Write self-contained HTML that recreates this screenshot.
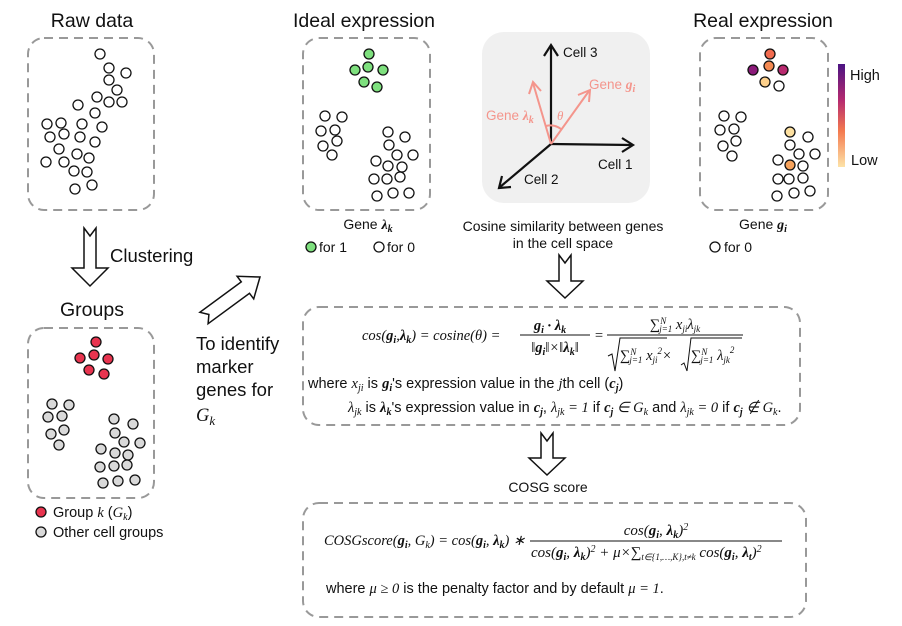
<!DOCTYPE html>
<html><head><meta charset="utf-8"><style>
html,body{margin:0;padding:0;background:#fff;}
svg{display:block;}
text{font-family:"Liberation Sans",sans-serif;fill:#111;}
.m{font-family:"Liberation Serif",serif;font-style:italic;}
.b{font-weight:bold;}
</style></head><body>
<svg width="902" height="626" viewBox="0 0 902 626" xmlns="http://www.w3.org/2000/svg">
<defs>
<linearGradient id="cb" x1="0" y1="0" x2="0" y2="1">
<stop offset="0" stop-color="#4b1483"/><stop offset="0.35" stop-color="#b52a70"/><stop offset="0.65" stop-color="#f47a4f"/><stop offset="1" stop-color="#fde3a8"/>
</linearGradient>
</defs>
<g fill="none" stroke="#999" stroke-width="2" stroke-dasharray="9,6">
<rect x="28" y="38" width="126" height="172" rx="16"/>
<rect x="303" y="38" width="127" height="172" rx="16"/>
<rect x="700" y="38" width="128" height="172" rx="16"/>
<rect x="28" y="328" width="126" height="170" rx="16"/>
<rect x="303" y="307" width="497" height="118" rx="16"/>
<rect x="303" y="503" width="503" height="114" rx="16"/>
</g>
<rect x="482" y="32" width="168" height="171" rx="22" fill="#f0f0f0"/>
<g font-size="19.5">
<text x="92" y="27" text-anchor="middle">Raw data</text>
<text x="364" y="27" text-anchor="middle">Ideal expression</text>
<text x="763" y="27" text-anchor="middle">Real expression</text>
<text x="92" y="316" text-anchor="middle">Groups</text>
</g>
<g fill="#fff" stroke="#111" stroke-width="1.3">
<circle cx="100" cy="54" r="5"/><circle cx="109" cy="68" r="5"/><circle cx="126" cy="73" r="5"/><circle cx="109" cy="80" r="5"/><circle cx="117" cy="90" r="5"/><circle cx="97" cy="97" r="5"/><circle cx="109" cy="102" r="5"/><circle cx="122" cy="102" r="5"/><circle cx="78" cy="105" r="5"/><circle cx="95" cy="113" r="5"/><circle cx="47" cy="124" r="5"/><circle cx="61" cy="123" r="5"/><circle cx="82" cy="124" r="5"/><circle cx="102" cy="127" r="5"/><circle cx="50" cy="137" r="5"/><circle cx="64" cy="134" r="5"/><circle cx="80" cy="137" r="5"/><circle cx="95" cy="142" r="5"/><circle cx="59" cy="149" r="5"/><circle cx="77" cy="154" r="5"/><circle cx="89" cy="158" r="5"/><circle cx="46" cy="162" r="5"/><circle cx="64" cy="162" r="5"/><circle cx="74" cy="171" r="5"/><circle cx="87" cy="172" r="5"/><circle cx="75" cy="189" r="5"/><circle cx="92" cy="185" r="5"/>
</g>
<g fill="#7ee07e" stroke="#111" stroke-width="1.3">
<circle cx="369" cy="54" r="5"/><circle cx="368" cy="67" r="5"/><circle cx="355" cy="70" r="5"/><circle cx="383" cy="70" r="5"/><circle cx="364" cy="82" r="5"/><circle cx="377" cy="87" r="5"/>
<circle cx="311" cy="247" r="5"/>
</g>
<g fill="#fff" stroke="#111" stroke-width="1.3">
<circle cx="325" cy="116" r="5"/><circle cx="342" cy="117" r="5"/><circle cx="321" cy="131" r="5"/><circle cx="335" cy="130" r="5"/><circle cx="337" cy="141" r="5"/><circle cx="323" cy="146" r="5"/><circle cx="332" cy="155" r="5"/>
<circle cx="388" cy="132" r="5"/><circle cx="405" cy="137" r="5"/><circle cx="389" cy="145" r="5"/><circle cx="397" cy="155" r="5"/><circle cx="413" cy="155" r="5"/><circle cx="376" cy="161" r="5"/><circle cx="388" cy="166" r="5"/><circle cx="402" cy="167" r="5"/><circle cx="374" cy="179" r="5"/><circle cx="387" cy="179" r="5"/><circle cx="400" cy="177" r="5"/><circle cx="377" cy="196" r="5"/><circle cx="393" cy="193" r="5"/><circle cx="409" cy="193" r="5"/>
<circle cx="379" cy="247" r="5"/>
<circle cx="724" cy="116" r="5"/><circle cx="741" cy="117" r="5"/><circle cx="720" cy="130" r="5"/><circle cx="734" cy="129" r="5"/><circle cx="736" cy="141" r="5"/><circle cx="723" cy="146" r="5"/><circle cx="732" cy="156" r="5"/>
<circle cx="808" cy="137" r="5"/><circle cx="790" cy="145" r="5"/><circle cx="799" cy="154" r="5"/><circle cx="815" cy="154" r="5"/><circle cx="778" cy="160" r="5"/><circle cx="803" cy="166" r="5"/><circle cx="778" cy="179" r="5"/><circle cx="789" cy="179" r="5"/><circle cx="803" cy="178" r="5"/><circle cx="777" cy="196" r="5"/><circle cx="794" cy="193" r="5"/><circle cx="810" cy="191" r="5"/>
<circle cx="779" cy="86" r="5"/>
<circle cx="715" cy="247" r="5"/>
</g>
<g stroke="#111" stroke-width="1.3">
<circle cx="770" cy="54" r="5" fill="#f26b4f"/><circle cx="753" cy="70" r="5" fill="#8b1a7a"/><circle cx="769" cy="66" r="5" fill="#f48a53"/><circle cx="783" cy="70" r="5" fill="#b8296f"/><circle cx="765" cy="82" r="5" fill="#fdd08b"/>
<circle cx="790" cy="132" r="5" fill="#fde0a0"/><circle cx="790" cy="165" r="5" fill="#f7a35c"/>
</g>
<rect x="838" y="64" width="7" height="103" fill="url(#cb)"/>
<text x="850" y="80" font-size="14.5">High</text>
<text x="851" y="165" font-size="14.5">Low</text>
<g fill="#e8344f" stroke="#111" stroke-width="1.3">
<circle cx="96" cy="342" r="5"/><circle cx="94" cy="355" r="5"/><circle cx="80" cy="358" r="5"/><circle cx="108" cy="359" r="5"/><circle cx="89" cy="370" r="5"/><circle cx="104" cy="374" r="5"/>
<circle cx="41" cy="512" r="5"/>
</g>
<g fill="#d9d9d9" stroke="#111" stroke-width="1.3">
<circle cx="52" cy="404" r="5"/><circle cx="69" cy="405" r="5"/><circle cx="48" cy="417" r="5"/><circle cx="62" cy="416" r="5"/><circle cx="64" cy="430" r="5"/><circle cx="51" cy="434" r="5"/><circle cx="59" cy="445" r="5"/>
<circle cx="114" cy="419" r="5"/><circle cx="133" cy="424" r="5"/><circle cx="115" cy="433" r="5"/><circle cx="124" cy="442" r="5"/><circle cx="140" cy="443" r="5"/><circle cx="101" cy="449" r="5"/><circle cx="115" cy="453" r="5"/><circle cx="128" cy="455" r="5"/><circle cx="100" cy="467" r="5"/><circle cx="114" cy="466" r="5"/><circle cx="127" cy="465" r="5"/><circle cx="103" cy="483" r="5"/><circle cx="118" cy="481" r="5"/><circle cx="135" cy="480" r="5"/>
<circle cx="41" cy="532" r="5"/>
</g>
<text x="53" y="517" font-size="14.5">Group <tspan class="m">k</tspan> (<tspan class="m">G</tspan><tspan class="m" font-size="10" dy="3">k</tspan><tspan dy="-3">)</tspan></text>
<text x="53" y="537" font-size="14.5">Other cell groups</text>
<text x="368" y="229" font-size="14" text-anchor="middle">Gene <tspan class="m b">λ</tspan><tspan class="m b" font-size="10" dy="3">k</tspan></text>
<text x="319" y="252" font-size="14">for 1</text>
<text x="387" y="252" font-size="14">for 0</text>
<text x="763" y="229" font-size="14" text-anchor="middle">Gene <tspan class="m b">g</tspan><tspan class="m b" font-size="10" dy="3">i</tspan></text>
<text x="724" y="252" font-size="14">for 0</text>
<!-- axes -->
<g stroke="#111" stroke-width="2.2" fill="none">
<line x1="551" y1="144" x2="551" y2="46"/><polyline points="544,56 551,45 558,56"/>
<line x1="551" y1="144" x2="632" y2="145"/><polyline points="622,138 633,145 622,152"/>
<line x1="551" y1="144" x2="500" y2="187"/><polyline points="502,176 499,188 511,187"/>
</g>
<g stroke="#f4958c" stroke-width="2" fill="none">
<line x1="551" y1="144" x2="533" y2="83"/><polyline points="529,94 533,82 541,91"/>
<line x1="551" y1="144" x2="589" y2="91"/><polyline points="578,95 590,90 589,102"/>
<path d="M546,126 A18,18 0 0 1 561,129"/>
</g>
<text x="563" y="57" font-size="13.5">Cell 3</text>
<text x="589" y="89" font-size="13.5" style="fill:#f4958c">Gene <tspan class="m b" style="fill:#f4958c">g</tspan><tspan class="m b" font-size="10" dy="3" style="fill:#f4958c">i</tspan></text>
<text x="486" y="120" font-size="13.5" style="fill:#f4958c">Gene <tspan class="m b" style="fill:#f4958c">λ</tspan><tspan class="m b" font-size="10" dy="3" style="fill:#f4958c">k</tspan></text>
<text x="557" y="120" font-size="13" class="m" style="fill:#f4958c">θ</text>
<text x="598" y="169" font-size="13.5">Cell 1</text>
<text x="524" y="184" font-size="13.5">Cell 2</text>
<text x="563" y="231" font-size="14" text-anchor="middle">Cosine similarity between genes</text>
<text x="563" y="248" font-size="14" text-anchor="middle">in the cell space</text>
<!-- hollow arrows -->
<g fill="#fff" stroke="#111" stroke-width="1.5">
<polygon points="559,255 565,263 571,255 571,281 583,281 565,298 547,281 559,281"/>
<polygon points="541,433 547,441 553,433 553,458 565,458 547,475 529,458 541,458"/>
<polygon points="84,228 90,236 96,228 96,268 108,268 90,286 72,268 84,268"/>
<polygon points="199.9,312.3 208.9,314.5 208.1,323.7 249.5,293.3 253.7,298.9 260,277 237.1,276.3 241.3,281.9"/>
</g>
<text x="110" y="262" font-size="18.5">Clustering</text>
<g font-size="18.5">
<text x="196" y="350">To identify</text>
<text x="196" y="373">marker</text>
<text x="196" y="396">genes for</text>
<text x="196" y="421" class="m">G<tspan font-size="13" dy="4">k</tspan></text>
</g>
<!-- formula 1 -->
<g font-size="14.5">
<text x="362" y="340" class="m">cos(<tspan class="b">g</tspan><tspan font-size="10" dy="3" class="b">i</tspan><tspan dy="-3">,</tspan><tspan class="b">λ</tspan><tspan font-size="10" dy="3" class="b">k</tspan><tspan dy="-3">) = cosine(θ) =</tspan></text>
<text x="550" y="330" class="m b" text-anchor="middle">g<tspan font-size="10" dy="3">i</tspan><tspan dy="-3"> · λ</tspan><tspan font-size="10" dy="3">k</tspan></text>
<line x1="520" y1="335" x2="590" y2="335" stroke="#111" stroke-width="1"/>
<text x="555" y="352" class="m" text-anchor="middle">‖<tspan class="b">g</tspan><tspan font-size="10" dy="3" class="b">i</tspan><tspan dy="-3">‖×‖</tspan><tspan class="b">λ</tspan><tspan font-size="10" dy="3" class="b">k</tspan><tspan dy="-3">‖</tspan></text>
<text x="594" y="340" class="m">=</text>
<text x="675" y="329" class="m" text-anchor="middle">∑<tspan font-size="9" dy="-5">N</tspan><tspan font-size="9" dy="8" dx="-7">j=1</tspan><tspan dy="-3"> x</tspan><tspan font-size="9" dy="3">ji</tspan><tspan dy="-3">λ</tspan><tspan font-size="9" dy="3">jk</tspan></text>
<line x1="607" y1="335" x2="743" y2="335" stroke="#111" stroke-width="1"/>
<path d="M608,356 L612,354 L615,371 L620,338 L667,338 M681,365 L684,363 L687,371 L691,338 L742,338" fill="none" stroke="#111" stroke-width="1"/>
<text x="620" y="360" class="m">∑<tspan font-size="9" dy="-5">N</tspan><tspan font-size="9" dy="8" dx="-7">j=1</tspan><tspan dy="-3"> x</tspan><tspan font-size="9" dy="3">ji</tspan><tspan font-size="9" dy="-9">2</tspan><tspan dy="6">×</tspan></text>
<text x="691" y="360" class="m">∑<tspan font-size="9" dy="-5">N</tspan><tspan font-size="9" dy="8" dx="-7">j=1</tspan><tspan dy="-3"> λ</tspan><tspan font-size="9" dy="3">jk</tspan><tspan font-size="9" dy="-10">2</tspan></text>
<text x="308" y="388">where <tspan class="m">x</tspan><tspan class="m" font-size="10" dy="3">ji</tspan><tspan dy="-3"> is </tspan><tspan class="m b">g</tspan><tspan class="m b" font-size="10" dy="3">i</tspan><tspan dy="-3">'s expression value in the </tspan><tspan class="m">j</tspan>th cell (<tspan class="m b">c</tspan><tspan class="m b" font-size="10" dy="3">j</tspan><tspan dy="-3">)</tspan></text>
<text x="348" y="412"><tspan class="m">λ</tspan><tspan class="m" font-size="10" dy="3">jk</tspan><tspan dy="-3"> is </tspan><tspan class="m b">λ</tspan><tspan class="m b" font-size="10" dy="3">k</tspan><tspan dy="-3">'s expression value in </tspan><tspan class="m b">c</tspan><tspan class="m b" font-size="10" dy="3">j</tspan><tspan dy="-3">,  </tspan><tspan class="m">λ</tspan><tspan class="m" font-size="10" dy="3">jk</tspan><tspan dy="-3" class="m"> = 1</tspan> if <tspan class="m b">c</tspan><tspan class="m b" font-size="10" dy="3">j</tspan><tspan dy="-3" class="m"> ∈ G</tspan><tspan class="m" font-size="10" dy="3">k</tspan><tspan dy="-3"> and  </tspan><tspan class="m">λ</tspan><tspan class="m" font-size="10" dy="3">jk</tspan><tspan dy="-3" class="m"> = 0</tspan> if <tspan class="m b">c</tspan><tspan class="m b" font-size="10" dy="3">j</tspan><tspan dy="-3" class="m"> ∉ G</tspan><tspan class="m" font-size="10" dy="3">k</tspan><tspan dy="-3">.</tspan></text>
</g>
<text x="548" y="492" font-size="14" text-anchor="middle">COSG score</text>
<!-- formula 2 -->
<g font-size="14.5">
<text x="324" y="545" class="m">COSGscore(<tspan class="b">g</tspan><tspan font-size="10" dy="3" class="b">i</tspan><tspan dy="-3">, G</tspan><tspan font-size="10" dy="3">k</tspan><tspan dy="-3">) = cos(</tspan><tspan class="b">g</tspan><tspan font-size="10" dy="3" class="b">i</tspan><tspan dy="-3">, </tspan><tspan class="b">λ</tspan><tspan font-size="10" dy="3" class="b">k</tspan><tspan dy="-3">) ∗</tspan></text>
<text x="656" y="535" class="m" text-anchor="middle" font-size="15">cos(<tspan class="b">g</tspan><tspan font-size="10" dy="3" class="b">i</tspan><tspan dy="-3">, </tspan><tspan class="b">λ</tspan><tspan font-size="10" dy="3" class="b">k</tspan><tspan dy="-3">)</tspan><tspan font-size="10" dy="-5">2</tspan></text>
<line x1="530" y1="541" x2="782" y2="541" stroke="#111" stroke-width="1"/>
<text x="531" y="557" class="m" font-size="15">cos(<tspan class="b">g</tspan><tspan font-size="10" dy="3" class="b">i</tspan><tspan dy="-3">, </tspan><tspan class="b">λ</tspan><tspan font-size="10" dy="3" class="b">k</tspan><tspan dy="-3">)</tspan><tspan font-size="10" dy="-5">2</tspan><tspan dy="5"> + μ×∑</tspan><tspan font-size="9" dy="3">t∈{1,…,K},t≠k</tspan><tspan dy="-3"> cos(</tspan><tspan class="b">g</tspan><tspan font-size="10" dy="3" class="b">i</tspan><tspan dy="-3">, </tspan><tspan class="b">λ</tspan><tspan font-size="10" dy="3" class="b">t</tspan><tspan dy="-3">)</tspan><tspan font-size="10" dy="-5">2</tspan></text>
<text x="326" y="593">where <tspan class="m">μ ≥ 0</tspan> is the penalty factor and by default <tspan class="m">μ = 1</tspan>.</text>
</g>
</svg>
</body></html>
